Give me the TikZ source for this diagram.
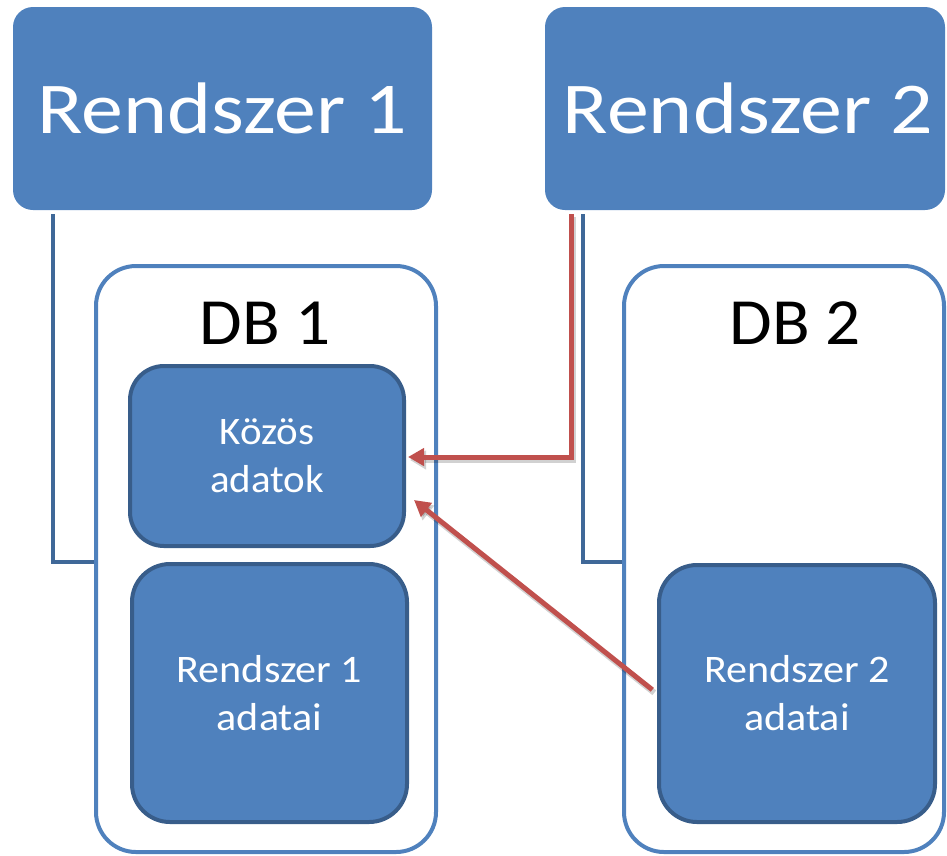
\documentclass[tikz,border=0pt]{standalone}
\usepackage{fontspec}
\setmainfont{Carlito}
\usetikzlibrary{arrows.meta}
\definecolor{boxblue}{HTML}{4F81BD}
\definecolor{edgeblue}{HTML}{385D8A}
\definecolor{linkblue}{HTML}{3F6898}
\definecolor{dbblue}{HTML}{4F81BD}
\definecolor{arrred}{HTML}{C0504D}
\tikzset{
  sysbox/.style={rectangle, rounded corners=20pt, fill=boxblue, draw=none,
    text=white, font=\fontsize{73}{86}\selectfont, inner sep=0pt},
  dbbox/.style={rectangle, rounded corners=40pt, draw=dbblue, line width=4pt, fill=none, inner sep=0pt},
  dbtitle/.style={font=\fontsize{66}{79}\selectfont, text=black, inner sep=0pt},
  databox/.style={rectangle, rounded corners=38pt, fill=boxblue, draw=edgeblue, line width=4pt,
    text=white, align=center, font=\fontsize{39}{48}\selectfont, inner sep=0pt},
  link/.style={draw=linkblue, line width=3.5pt},
  redarrow/.style={draw=arrred, line width=5pt, -{Triangle[length=16pt,width=17pt]}},
  redshadow/.style={draw=black, opacity=0.18, line width=6pt, -{Triangle[length=16pt,width=18pt]}},
}
\begin{document}
\begin{tikzpicture}[x=1pt,y=-1pt]
\useasboundingbox (0,0) rectangle (947,855);
% system boxes
\node[sysbox, minimum width=419pt, minimum height=203pt] (r1) at (222.5,108.5)
  {\scalebox{1.15}[1]{Rendszer 1}};
\node[sysbox, minimum width=400pt, minimum height=203pt] (r2) at (745,108.5)
  {\hspace*{6pt}\scalebox{1.15}[1]{Rendszer 2}};
% databases
\node[dbbox, minimum width=340pt, minimum height=586pt] (db1) at (266,559) {};
\node[dbbox, minimum width=320pt, minimum height=586pt] (db2) at (784,559) {};
\node[dbtitle] (t1) at (265,323) {\scalebox{1.05}[1]{DB 1}};
\node[dbtitle] (t2) at (795,323) {\scalebox{1.05}[1]{DB 2}};
% data boxes
\node[databox, rounded corners=34pt, minimum width=274pt, minimum height=180pt] (kozos) at (267,456)
  {\scalebox{1.05}[1]{Közös}\\\scalebox{1.05}[1]{adatok}};
\node[databox, minimum width=275pt, minimum height=258pt] (r1a) at (269.5,693)
  {\scalebox{1.08}[1]{Rendszer 1}\\\scalebox{1.08}[1]{adatai}};
\node[databox, minimum width=276pt, minimum height=257pt] (r2a) at (797,693.5)
  {\scalebox{1.08}[1]{Rendszer 2}\\\scalebox{1.08}[1]{adatai}};
% blue links
\coordinate (j1) at (53,562);
\coordinate (j2) at (583,562);
\draw[link, shorten <=4pt] (r1.south -| j1) |- (db1.west |- j1);
\draw[link, shorten <=4pt] (r2.south -| j2) |- (db2.west |- j2);
% red arrows
\coordinate (c1) at (571,457);
\coordinate (tip2) at ([shift={(8,44)}]kozos.east);
\draw[redshadow, shorten <=4pt, transform canvas={shift={(2pt,-3pt)}}] (r2.south -| c1) |- ([xshift=2pt]kozos.east |- c1);
\draw[redshadow, shorten <=6pt, transform canvas={shift={(2pt,-3pt)}}] (r2a.west) -- (tip2);
\draw[redarrow, shorten <=4pt] (r2.south -| c1) |- ([xshift=2pt]kozos.east |- c1);
\draw[redarrow, shorten <=6pt] (r2a.west) -- (tip2);
\end{tikzpicture}
\end{document}
